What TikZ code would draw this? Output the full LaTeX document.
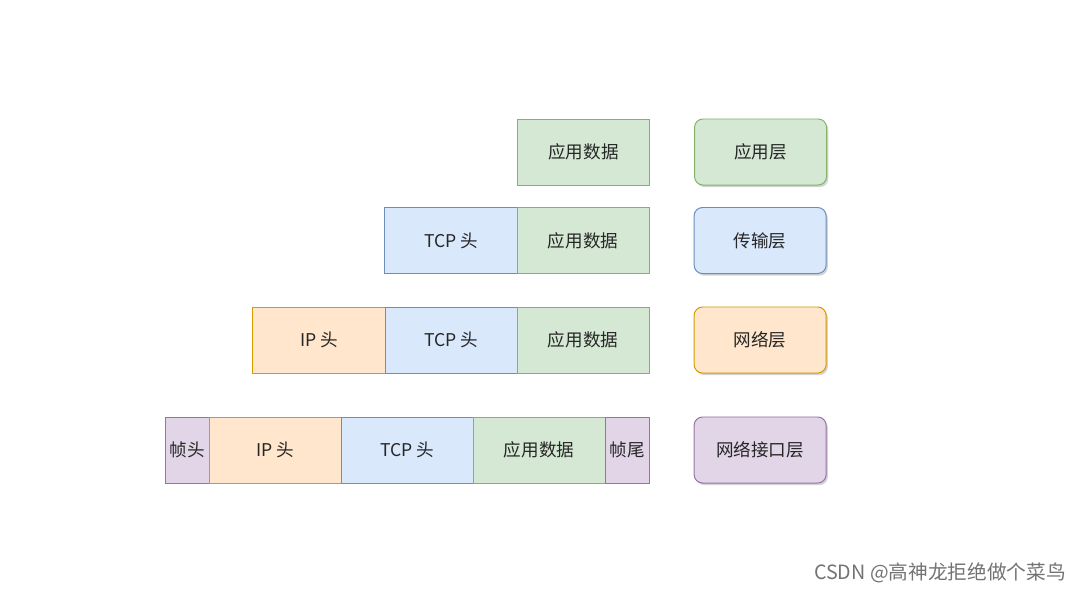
\documentclass[tikz,border=0pt]{standalone}
\usepackage{fontspec}
\setmainfont{Noto Sans CJK SC}
\usetikzlibrary{positioning,shadows}
\definecolor{appfill}{HTML}{D5E8D4}
\definecolor{appline}{HTML}{82B366}
\definecolor{tcpfill}{HTML}{DAE8FC}
\definecolor{tcpline}{HTML}{6C8EBF}
\definecolor{ipfill}{HTML}{FFE6CC}
\definecolor{ipline}{HTML}{D79B00}
\definecolor{framefill}{HTML}{E1D5E7}
\definecolor{frameline}{HTML}{9673A6}
\begin{document}
\begin{tikzpicture}[
  x=0.025cm, y=-0.025cm,
  every node/.style={font=\fontsize{12.5}{15}\selectfont, inner sep=0pt, outer sep=0pt, line width=0.7pt, text=black!85},
  seg/.style={rectangle, draw, minimum width=3.3cm, minimum height=1.65cm},
  tag/.style={rectangle, draw, minimum width=1.1cm, minimum height=1.65cm},
  layer/.style={rectangle, rounded corners=6pt, draw, minimum width=3.3cm, minimum height=1.65cm,
    drop shadow={shadow xshift=1.2pt, shadow yshift=-1.5pt, opacity=0.35}},
  app/.style={fill=appfill, draw=appline},
  tcp/.style={fill=tcpfill, draw=tcpline},
  ip/.style={fill=ipfill, draw=ipline},
  frame/.style={fill=framefill, draw=frameline}
]
  \useasboundingbox (0,0) rectangle (1080,594);
  % application layer
  \node[seg, app] (appA) at (583.5,152) {应用数据};
  % transport layer
  \node[seg, tcp] (tcpB) at (451,240.5) {TCP 头};
  \node[seg, app, right=0pt of tcpB] (appB) {应用数据};
  % network layer
  \node[seg, ip] (ipC) at (319,340) {IP 头};
  \node[seg, tcp, right=0pt of ipC] (tcpC) {TCP 头};
  \node[seg, app, right=0pt of tcpC] (appC) {应用数据};
  % link layer
  \node[tag, frame] (headD) at (187,450) {帧头};
  \node[seg, ip, right=0pt of headD] (ipD) {IP 头};
  \node[seg, tcp, right=0pt of ipD] (tcpD) {TCP 头};
  \node[seg, app, right=0pt of tcpD] (appD) {应用数据};
  \node[tag, frame, right=0pt of appD] (tailD) {帧尾};
  % layer names
  \node[layer, app, right=1.125cm of appA] (appL) {应用层};
  \node[layer, tcp, right=1.125cm of appB] (tcpL) {传输层};
  \node[layer, ip, right=1.125cm of appC] (ipL) {网络层};
  \node[layer, frame, right=1.125cm of tailD] (linkL) {网络接口层};
  \node[font=\fontsize{14}{17}\selectfont, text=black!55] (mark) at (940,573) {CSDN @高神龙拒绝做个菜鸟};
\end{tikzpicture}
\end{document}
